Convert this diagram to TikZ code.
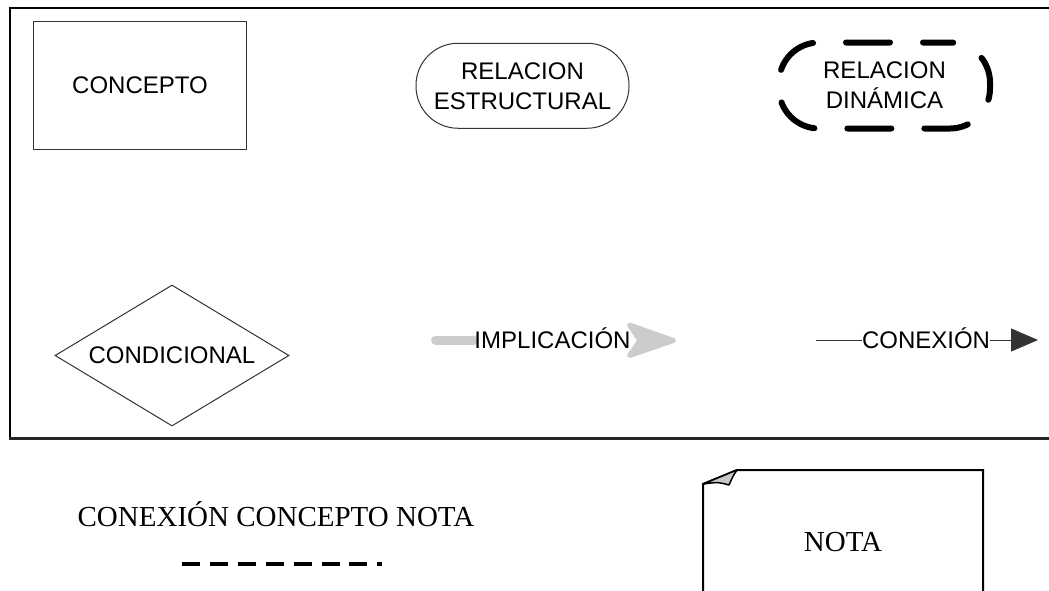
\documentclass[tikz,border=0pt]{standalone}
\usepackage{fontspec}
\setmainfont{Liberation Serif}
\setsansfont{Liberation Sans}
\usetikzlibrary{shapes.geometric,arrows.meta,backgrounds}
\definecolor{implgray}{HTML}{CCCCCC}
\definecolor{foldgray}{HTML}{C8C8C8}
\begin{document}
\begin{tikzpicture}[x=1pt,y=-1pt,
		shapetext/.style={font=\sffamily\fontsize{24}{30}\selectfont, align=center, inner sep=0pt},
		notetext/.style={font=\rmfamily\fontsize{29}{33}\selectfont, inner sep=0pt, anchor=base},
		thinline/.style={draw=black!80, line width=1pt}]
		\useasboundingbox (0,0) rectangle (1049,590);
		%Outer frame (open at the right)
		\draw [line width=2pt] (1049,8) -- (10,8) -- (10,438.5);
		\draw [black!85, line width=3pt] (9,438.5) -- (1049,438.5);
		%Concept box
		\node [shapetext, thinline, minimum width=213, minimum height=128] (concepto) at (140,85) {CONCEPTO};
		%Structural relation
		\node [shapetext, thinline, rounded corners=42, minimum width=213, minimum height=85] (estructural) at (522.5,85.75) {RELACION\\ESTRUCTURAL};
		%Dynamic relation
		\node [shapetext, draw, line width=6pt, line cap=round, dash pattern=on 44pt off 33pt, dash phase=17pt, rounded corners=40, minimum width=211, minimum height=86] (dinamica) at (884.5,85.5) {RELACION\\DIN\'AMICA};
		%Conditional
		\node [shapetext, thinline, diamond, aspect=1.66, minimum width=234, minimum height=141] (condicional) at (172,355.5) {CONDICIONAL};
		%Implication
		\node [shapetext, anchor=base] (implicacion) at (552.5,348) {IMPLICACI\'ON};
		\coordinate (impl0) at (435.5,340);
		\begin{pgfonlayer}{background}
			\draw [implgray, line width=9pt, line cap=round] (impl0) -- (impl0 -| implicacion.west);
			\filldraw [implgray, line width=5pt, line join=round] (629.5,325) -- (673.5,340.5) -- (629.5,355.5) -- (640,340.5) -- cycle;
		\end{pgfonlayer}
		%Connection
		\node [shapetext, anchor=base] (conexion) at (926,348) {CONEXI\'ON};
		\coordinate (con0) at (816,340);
		\coordinate (con1) at (1037,340);
		\draw [thinline] (con0) -- (con0 -| conexion.west);
		\draw [thinline, -{Triangle[length=27pt, width=23pt]}, shorten >=-1pt] (con1 -| conexion.east) -- (con1);
		%Concept to note connection
		\node [notetext] (connota) at (276,526) {CONEXI\'ON CONCEPTO NOTA};
		\coordinate (dash0) at (182,564);
		\coordinate (dash1) at (382,564);
		\draw [line width=4pt, dash pattern=on 18pt off 9.9pt] (dash0) -- (dash1);
		%Note
		\draw [line width=2pt] (703,600) -- (703,484) -- (737,470) -- (983,470) -- (983,600);
		\filldraw [fill=foldgray, line width=1.5pt, line join=round] (703,484) -- (737,470) .. controls (733,476) .. (729,485) .. controls (718,482) .. (703,484);
		\node [notetext] (nota) at (843,551) {NOTA};
\end{tikzpicture}
\end{document}
